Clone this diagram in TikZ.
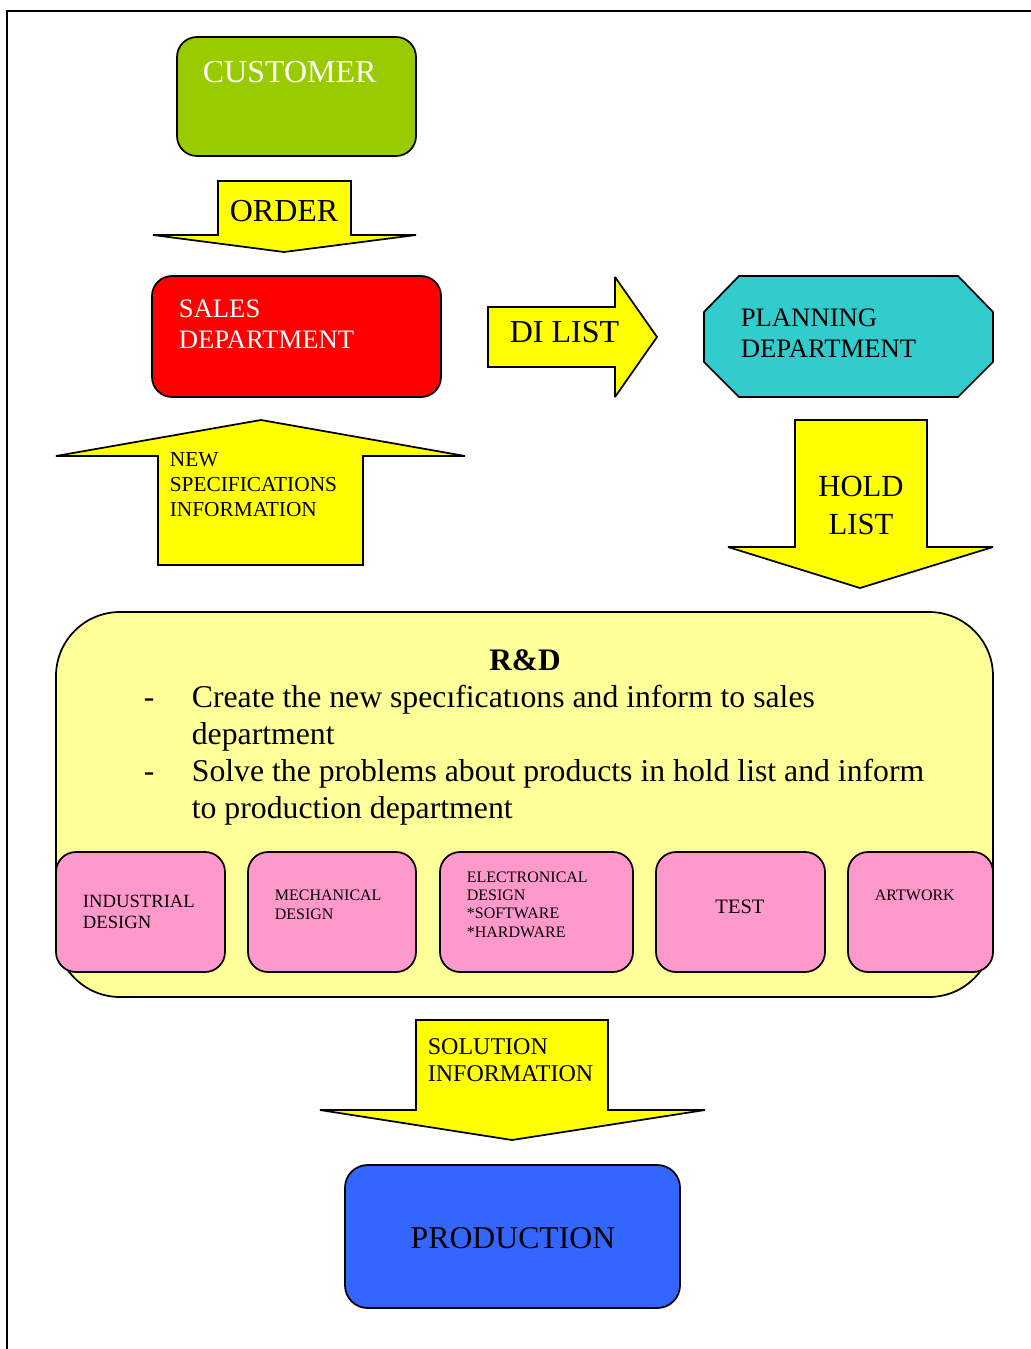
\documentclass[tikz,border=0pt]{standalone}
\usepackage{fontspec}
\setmainfont{Liberation Serif}
\definecolor{custgreen}{HTML}{99CC00}
\definecolor{salesred}{HTML}{FF0000}
\definecolor{plancyan}{HTML}{33CCCC}
\definecolor{flowyellow}{HTML}{FFFF00}
\definecolor{rdyellow}{HTML}{FFFF99}
\definecolor{unitpink}{HTML}{FF99CC}
\definecolor{prodblue}{HTML}{3366FF}
\begin{document}
\begin{tikzpicture}[x=0.75pt,y=-0.75pt,line width=1.3pt,
  box/.style={draw=black,rounded corners=15pt},
  blockarrow/.style={draw=black,fill=flowyellow,line join=miter,miter limit=2},
  txt/.style={inner sep=0pt,anchor=base west},
  ctxt/.style={inner sep=0pt,anchor=base},
  big/.style={font=\fontsize{24}{28}\selectfont},
  mid/.style={font=\fontsize{20}{24}\selectfont},
  small/.style={font=\fontsize{16}{19}\selectfont},
  tiny/.style={font=\fontsize{12}{14}\selectfont}]
\useasboundingbox (0,0) rectangle (1031,1349);

% page frame
\draw[line width=1.5pt] (1031,11) -- (7,11) -- (7,1349);

% customer
\path[box,fill=custgreen] (177,37) rectangle (416,156);
\node[txt,big,text=white] (customer) at (202,82) {CUSTOMER};

% order arrow
\path[blockarrow] (218,181) -- (351,181) -- (351,235) -- (416,235) -- (284,252)
  -- (153,235) -- (218,235) -- cycle;
\node[txt,big] (order) at (229,221) {ORDER};

% sales department
\path[box,fill=salesred] (152,276) rectangle (441,397);
\node[txt,mid,text=white] (sales1) at (178,317) {SALES};
\node[txt,mid,text=white] (sales2) at (178,348) {DEPARTMENT};

% DI list arrow
\path[blockarrow] (488,307) -- (615,307) -- (615,277) -- (657,337) -- (615,397)
  -- (615,367) -- (488,367) -- cycle;
\node[txt,big] (dilist) at (509,342) {DI LIST};

% planning department
\path[draw=black,fill=plancyan] (739,276) -- (958,276) -- (993,312) -- (993,362)
  -- (958,397) -- (739,397) -- (704,362) -- (704,312) -- cycle;
\node[txt,mid] (plan1) at (740,326) {PLANNING};
\node[txt,mid] (plan2) at (740,357) {DEPARTMENT};

% hold list arrow
\path[blockarrow] (795,420) -- (927,420) -- (927,547) -- (993,547) -- (860,588)
  -- (728,547) -- (795,547) -- cycle;
\node[ctxt,font=\fontsize{23}{27}\selectfont] (hold1) at (861,496) {HOLD};
\node[ctxt,font=\fontsize{23}{27}\selectfont] (hold2) at (861,534) {LIST};

% new specifications arrow
\path[blockarrow] (158,565) -- (158,456) -- (56,456) -- (261,420) -- (465,456)
  -- (363,456) -- (363,565) -- cycle;
\node[txt,small] (spec1) at (169,466) {NEW};
\node[txt,small] (spec2) at (169,491) {SPECIFICATIONS};
\node[txt,small] (spec3) at (169,516) {INFORMATION};

% R&D block
\path[draw=black,fill=rdyellow,rounded corners=48pt] (56,612) rectangle (993,997);
\node[ctxt,font=\fontsize{23.5}{28}\selectfont\bfseries] (rd) at (525,670) {R\&D};
\begin{scope}[font=\fontsize{23.8}{28}\selectfont]
\node[txt] (dash1) at (143,707) {-};
\node[txt] (rdl1) at (191,707) {Create the new specıficatıons and inform to sales};
\node[txt] (rdl2) at (191,744) {department};
\node[txt] (dash2) at (143,781) {-};
\node[txt] (rdl3) at (191,781) {Solve the problems about products in hold list and inform};
\node[txt] (rdl4) at (191,818) {to production department};
\end{scope}

% R&D units
\path[box,fill=unitpink] (56,852) rectangle (225,972);
\path[box,fill=unitpink] (248,852) rectangle (416,972);
\path[box,fill=unitpink] (440,852) rectangle (633,972);
\path[box,fill=unitpink] (656,852) rectangle (825,972);
\path[box,fill=unitpink] (848,852) rectangle (993,972);
\node[txt,font=\fontsize{14}{17}\selectfont] (ind1) at (82,907) {INDUSTRIAL};
\node[txt,font=\fontsize{14}{17}\selectfont] (ind2) at (82,928) {DESIGN};
\node[txt,tiny] (mech1) at (274,900) {MECHANICAL};
\node[txt,tiny] (mech2) at (274,919) {DESIGN};
\node[txt,tiny] (elec1) at (466,882) {ELECTRONICAL};
\node[txt,tiny] (elec2) at (466,900) {DESIGN};
\node[txt,tiny] (elec3) at (466,918) {*SOFTWARE};
\node[txt,tiny] (elec4) at (466,937) {*HARDWARE};
\node[ctxt,font=\fontsize{15.4}{18}\selectfont] (test) at (740,913) {TEST};
\node[txt,tiny] (art) at (874,900) {ARTWORK};

% solution information arrow
\path[blockarrow] (416,1020) -- (608,1020) -- (608,1110) -- (705,1110) -- (512,1140)
  -- (320,1110) -- (416,1110) -- cycle;
\node[txt,font=\fontsize{18}{21}\selectfont] (sol1) at (427,1054) {SOLUTION};
\node[txt,font=\fontsize{18}{21}\selectfont] (sol2) at (427,1081) {INFORMATION};

% production
\path[draw=black,fill=prodblue,rounded corners=17pt] (345,1165) rectangle (680,1308);
\node[ctxt,font=\fontsize{23.8}{28}\selectfont] (prod) at (513,1248) {PRODUCTION};
\end{tikzpicture}
\end{document}
